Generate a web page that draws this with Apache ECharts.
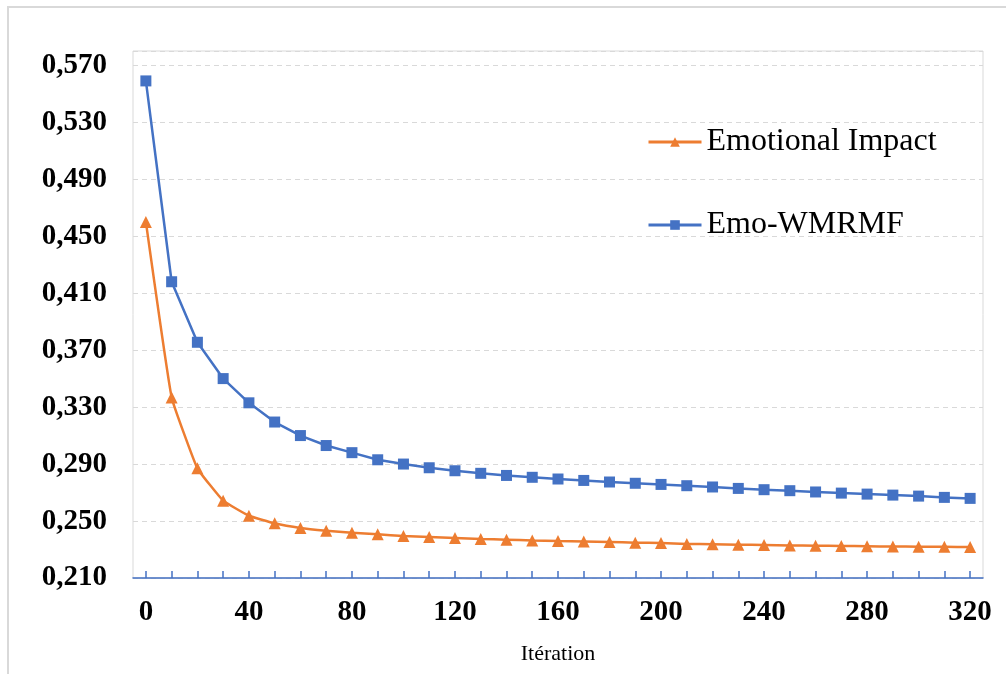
<!DOCTYPE html>
<html>
<head>
<meta charset="utf-8">
<script src="https://cdn.jsdelivr.net/npm/echarts@6/dist/echarts.min.js"></script>
<style>
  html, body { margin: 0; padding: 0; background: #fff; overflow: hidden; }
  #frame { position: absolute; left: 7px; top: 6px; width: 1020px; height: 700px; border: 2px solid #d9d9d9; box-sizing: border-box; }
  #main { position: absolute; left: 0; top: 0; width: 1006px; height: 674px; }
</style>
</head>
<body>
<div id="frame"></div>
<div id="main"></div>
<script>
// iterations 0..320 step 10
const iterations = ['0','10','20','30','40','50','60','70','80','90','100','110','120','130','140','150','160',
  '170','180','190','200','210','220','230','240','250','260','270','280','290','300','310','320']

const emotionalImpact = [0.460, 0.3368, 0.287, 0.2643, 0.2537, 0.2484, 0.2451, 0.2432, 0.2418, 0.2407,
  0.2395, 0.2388, 0.2381, 0.2374, 0.2369, 0.2364, 0.2360, 0.2357, 0.2353, 0.2348,
  0.2346, 0.2339, 0.2337, 0.2334, 0.2332, 0.2329, 0.2327, 0.2325, 0.2323, 0.2321,
  0.2320, 0.2319, 0.2318]

const emoWMRMF = [0.559, 0.418, 0.3755, 0.350, 0.333, 0.3195, 0.310, 0.303, 0.298, 0.293,
  0.290, 0.2874, 0.2853, 0.2835, 0.282, 0.2807, 0.2795, 0.2785, 0.2774, 0.2765,
  0.2757, 0.2748, 0.2739, 0.2729, 0.272, 0.2713, 0.2704, 0.2696, 0.2689, 0.2682,
  0.2675, 0.2666, 0.2659]

const yMin = 0.21
const yMax = 0.58
const yStep = 0.04

const serif = "'Liberation Serif', 'Times New Roman', serif"
const chart = echarts.init(document.getElementById('main'))

const option = {
  animation: false,
  grid: {
    left: 133, right: 23, top: 51, bottom: 96,
    show: true,
    borderColor: '#d9d9d9',
    borderWidth: 1
  },
  legend: {
    orient: 'vertical',
    left: 647,
    top: 126,
    padding: 0,
    itemWidth: 53,
    itemHeight: 12,
    itemGap: 51,
    lineStyle: { width: 3 },
    textStyle: { fontFamily: serif, fontSize: 32, color: '#000', padding: [0, 0, 0, 0] },
    data: ['Emotional Impact', 'Emo-WMRMF']
  },
  xAxis: {
    type: 'category',
    data: iterations,
    boundaryGap: true,
    name: 'Itération',
    nameLocation: 'middle',
    nameGap: 65,
    nameTextStyle: { fontFamily: serif, fontSize: 22, color: '#000' },
    axisLine: { show: true, lineStyle: { color: '#4472c4', width: 1.5 } },
    axisTick: { show: true, interval: 0, alignWithLabel: true, inside: true, length: 7, lineStyle: { color: '#4472c4', width: 1.5 } },
    axisLabel: {
      interval: 3,
      margin: 20,
      fontFamily: serif,
      fontSize: 29,
      fontWeight: 'bold',
      color: '#000'
    },
    splitLine: { show: false }
  },
  yAxis: {
    type: 'value',
    min: yMin,
    max: yMax,
    interval: yStep,
    axisLine: { show: false },
    axisTick: { show: false },
    axisLabel: {
      margin: 26,
      fontFamily: serif,
      fontSize: 29,
      fontWeight: 'bold',
      color: '#000',
      formatter: function (v) {
        if (v > 0.575) return ''
        return v.toFixed(3).replace('.', ',')
      }
    },
    splitLine: { lineStyle: { color: '#d9d9d9', type: [5, 4], width: 1 } }
  },
  series: [
    {
      name: 'Emotional Impact',
      type: 'line',
      data: emotionalImpact,
      smooth: 0.1,
      symbol: 'triangle',
      symbolSize: 12,
      color: '#ed7d31',
      lineStyle: { width: 2.5, color: '#ed7d31' },
      itemStyle: { color: '#ed7d31' }
    },
    {
      name: 'Emo-WMRMF',
      type: 'line',
      data: emoWMRMF,
      symbol: 'rect',
      symbolSize: 11,
      color: '#4472c4',
      lineStyle: { width: 2.5, color: '#4472c4' },
      itemStyle: { color: '#4472c4' }
    }
  ]
}

chart.setOption(option)
</script>
</body>
</html>
